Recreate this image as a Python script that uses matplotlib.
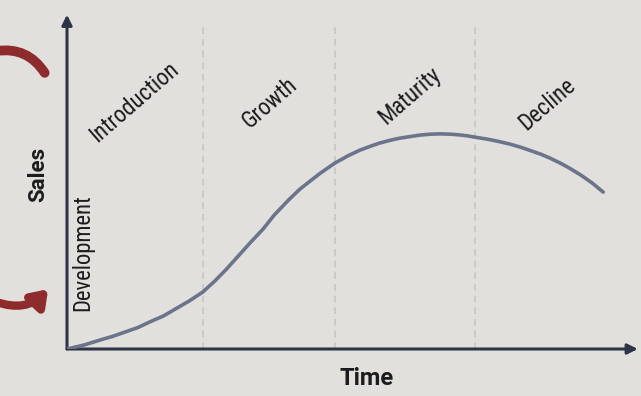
import matplotlib.pyplot as plt
from matplotlib.patches import FancyArrowPatch

# product life cycle curve (time 0..10, sales 0..10)
time = [0.0, 0.3, 0.58, 0.8, 1.0, 1.25, 1.46, 1.7, 1.9, 2.15, 2.39, 2.6, 2.8,
        3.0, 3.22, 3.45, 3.65, 3.9, 4.10, 4.3, 4.45, 4.6, 4.72, 4.95, 5.16,
        5.35, 5.5, 5.7, 5.86, 6.05, 6.2, 6.4, 6.57, 6.75, 6.9, 7.05, 7.18,
        7.4, 7.6, 7.8, 7.98, 8.15, 8.35, 8.5, 8.68, 8.85, 9.05, 9.25, 9.44]
sales = [0.0, 0.12, 0.27, 0.38, 0.5, 0.65, 0.82, 1.0, 1.2, 1.45, 1.72, 2.05, 2.4,
         2.78, 3.2, 3.62, 4.05, 4.5, 4.83, 5.1, 5.3, 5.48, 5.62, 5.84, 6.01,
         6.13, 6.22, 6.31, 6.37, 6.42, 6.46, 6.49, 6.5, 6.49, 6.47, 6.44, 6.4,
         6.34, 6.27, 6.19, 6.1, 6.0, 5.88, 5.77, 5.62, 5.46, 5.25, 5.01, 4.74]

stage_bounds = [2.39, 4.72, 7.18]
stages = ["Introduction", "Growth", "Maturity", "Decline"]
stage_x = [1.18, 3.57, 6.04, 8.45]
stage_y = [7.45, 7.45, 7.65, 7.4]

bg = "#e1e0dc"
ink = "#1c1c1e"
axis_col = "#2d3447"
curve_col = "#6c748b"
red = "#8e2b2d"

plt.rcParams["font.family"] = ["Roboto Condensed", "Roboto", "DejaVu Sans"]

fig = plt.figure(figsize=(6.41, 3.96), dpi=100, facecolor=bg)
ax = fig.add_axes([67 / 641, 47 / 396, 568 / 641, 331 / 396])
ax.set_facecolor(bg)
ax.set_xlim(0, 10)
ax.set_ylim(0, 10)
ax.axis("off")

# stage separators
for b in stage_bounds:
    ax.plot([b, b], [0, 9.8], color="#c6c6c2", lw=1.2, ls=(0, (4, 3)), zorder=1)

# axes with arrow heads
ax.annotate("", xy=(10.05, 0), xytext=(0, 0), annotation_clip=False,
            arrowprops=dict(arrowstyle="-|>,head_length=0.6,head_width=0.3",
                            color=axis_col, lw=2.2, shrinkA=0, shrinkB=0))
ax.annotate("", xy=(0, 10.1), xytext=(0, 0), annotation_clip=False,
            arrowprops=dict(arrowstyle="-|>,head_length=0.6,head_width=0.3",
                            color=axis_col, lw=2.2, shrinkA=0, shrinkB=0))

ax.plot(time, sales, color=curve_col, lw=2.6, solid_capstyle="round",
        solid_joinstyle="round", zorder=3)

for name, x, y in zip(stages, stage_x, stage_y):
    ax.text(x, y, name, rotation=41, ha="center", va="center",
            fontsize=16.5, color=ink)

ax.text(0.27, 2.9, "Development", rotation=90, ha="center", va="center",
        fontsize=16.3, color=ink)
ax.text(-0.51, 5.26, "Sales", rotation=90, ha="center", va="center",
        fontsize=16, fontweight="bold", color=ink, clip_on=False,
        family=["Roboto", "DejaVu Sans"])
ax.text(5.28, -0.88, "Time", ha="center", va="center",
        fontsize=17, fontweight="bold", color=ink, clip_on=False,
        family=["Roboto", "DejaVu Sans"])

# red curved arrows cut off at the left edge of the photo
fig.patches.append(FancyArrowPatch((-0.01, 0.87), (0.072, 0.81),
                                   transform=fig.transFigure,
                                   connectionstyle="arc3,rad=-0.35",
                                   arrowstyle="-", lw=7, color=red))
fig.patches.append(FancyArrowPatch((-0.01, 0.24), (0.078, 0.275),
                                   transform=fig.transFigure,
                                   connectionstyle="arc3,rad=0.35",
                                   arrowstyle="-|>,head_length=0.5,head_width=0.35",
                                   mutation_scale=18, lw=6, color=red))

fig.savefig("out.png", dpi=100, facecolor=bg)
